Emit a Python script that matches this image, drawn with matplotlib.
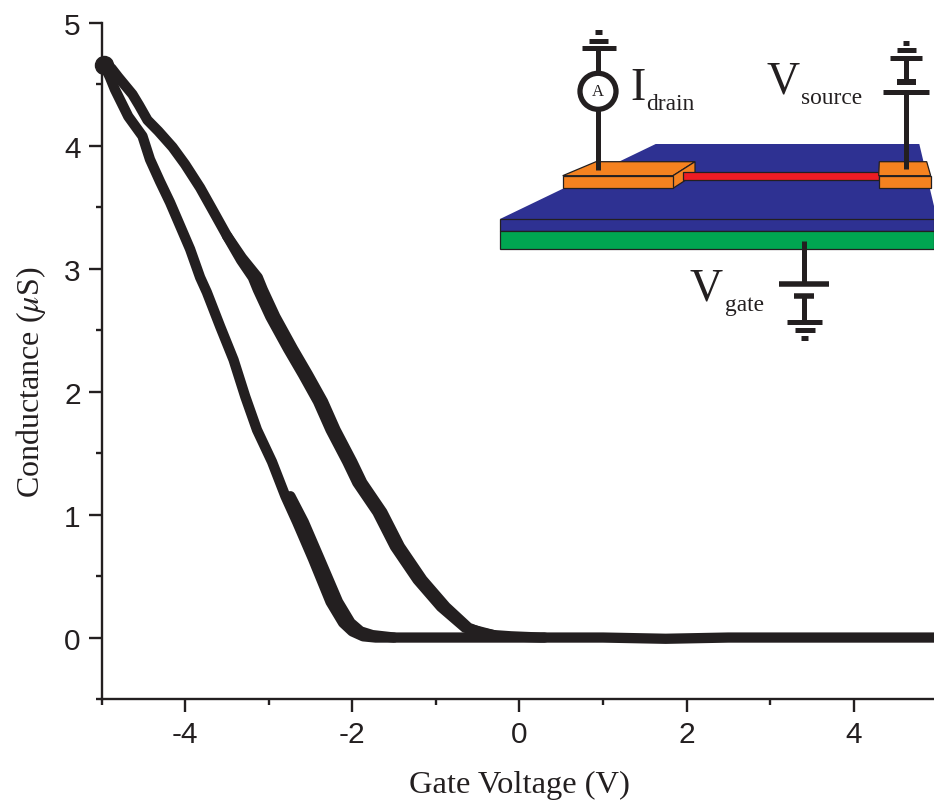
#!/usr/bin/env python3
"""Gate sweep hysteresis of a nanotube transistor, with the device sketch as inset."""

import matplotlib

matplotlib.use("Agg")

import matplotlib.pyplot as plt
from matplotlib import patches
from matplotlib.ticker import FixedLocator

INK = "#231f20"
SERIF = "Liberation Serif"
SANS = "Liberation Sans"

# right branch of the loop, first sweep
upper_v = [-4.97, -4.88, -4.80, -4.63, -4.55, -4.45, -4.32, -4.15, -4.00, -3.82, -3.68, -3.50, -3.32,
           -3.13, -3.07, -2.92, -2.71, -2.53, -2.35, -2.20, -2.00, -1.88, -1.64, -1.43,
           -1.16, -0.88, -0.61, -0.46, -0.31, -0.10, 0.25, 1.0, 1.75, 2.5, 3.5, 5.0]
upper_g = [4.66, 4.63, 4.56, 4.42, 4.33, 4.21, 4.12, 3.99, 3.85, 3.66, 3.49, 3.27, 3.09,
           2.93, 2.83, 2.61, 2.35, 2.14, 1.92, 1.69, 1.43, 1.26, 1.02, 0.74,
           0.47, 0.25, 0.08, 0.04, 0.02, 0.01, 0.0, 0.0, -0.01, 0.0, 0.0, 0.0]

# right branch, second sweep running just left of the first
upper2_v = [-3.50, -3.33, -3.19, -3.13, -2.98, -2.77, -2.59, -2.41, -2.26, -2.06, -1.94,
            -1.70, -1.49, -1.22, -0.94, -0.65, -0.31]
upper2_g = [3.27, 3.07, 2.93, 2.83, 2.61, 2.35, 2.14, 1.92, 1.69, 1.43, 1.26,
            1.02, 0.74, 0.47, 0.25, 0.08, 0.02]

# left branch of the loop
lower_v = [-4.97, -4.90, -4.84, -4.68, -4.51, -4.42, -4.30, -4.18, -4.06, -3.94, -3.82, -3.74,
           -3.58, -3.42, -3.28, -3.14, -2.96, -2.80, -2.66, -2.47, -2.26, -2.11, -2.00, -1.87,
           -1.72, -1.58, -1.00, -0.40, 0.30]
lower_g = [4.66, 4.56, 4.46, 4.24, 4.08, 3.89, 3.71, 3.54, 3.35, 3.16, 2.93, 2.81,
           2.53, 2.26, 1.96, 1.69, 1.43, 1.15, 0.94, 0.64, 0.29, 0.12, 0.05, 0.01,
           0.0, 0.0, 0.0, 0.0, 0.0]

# left branch, second sweep near the bend
lower2_v = [-2.74, -2.58, -2.39, -2.17, -2.02, -1.90, -1.76, -1.50]
lower2_g = [1.15, 0.94, 0.64, 0.29, 0.12, 0.05, 0.02, 0.0]

x_major = [-4, -2, 0, 2, 4]
x_minor = [-5, -3, -1, 1, 3, 5]
y_major = [0, 1, 2, 3, 4, 5]
y_minor = [-0.5, 0.5, 1.5, 2.5, 3.5, 4.5]


def plate(ax, x0, x1, y, width=5):
    ax.plot([x0, x1], [y, y], color=INK, lw=width * 0.72, solid_capstyle="butt")


def wire(ax, x, y0, y1):
    ax.plot([x, x], [y0, y1], color=INK, lw=3.6, solid_capstyle="butt")


def draw_device(ax):
    # everything here is a sketch, placed in figure pixels
    edge = dict(edgecolor=INK, linewidth=0.9)
    blue = "#2e3192"
    orange = "#f58220"

    ax.add_patch(patches.Polygon(
        [(500, 220), (655.7, 145), (919.3, 145), (934, 207), (934, 220)],
        facecolor=blue, edgecolor="none"))
    ax.add_patch(patches.Rectangle((500, 220), 434, 12, facecolor=blue, **edge))
    ax.add_patch(patches.Rectangle((500, 232), 434, 18, facecolor="#00a651", **edge))

    # drain pad
    ax.add_patch(patches.Polygon(
        [(562.7, 176.7), (596, 162.7), (695, 162.7), (673, 176.7)], facecolor=orange, **edge))
    ax.add_patch(patches.Polygon(
        [(673, 176.7), (695, 162.7), (695, 175), (673, 189.3)], facecolor=orange, **edge))
    ax.add_patch(patches.Rectangle((562.7, 176.7), 110.3, 12.6, facecolor=orange, **edge))

    # channel
    ax.add_patch(patches.Rectangle((682.7, 172.7), 196, 8.6, facecolor="#ed1c24", **edge))

    # source pad
    ax.add_patch(patches.Polygon(
        [(879.3, 162.7), (926.7, 162.7), (930.7, 176.7), (878.7, 176.7)],
        facecolor=orange, **edge))
    ax.add_patch(patches.Rectangle((878.7, 176.7), 52, 12.6, facecolor=orange, **edge))

    # drain lead with ammeter
    wire(ax, 598.3, 171, 111)
    wire(ax, 598.3, 74, 49)
    plate(ax, 581.7, 615.7, 49.3)
    plate(ax, 589, 608, 41.7)
    plate(ax, 595.3, 602, 33.3)
    ax.add_patch(patches.Circle((598, 92.3), 18, facecolor="white", edgecolor=INK, linewidth=3.8))
    ax.text(598, 92.3, "A", family=SERIF, fontsize=12, color=INK, ha="center", va="center")

    # source lead
    wire(ax, 906.3, 170, 93)
    plate(ax, 883.3, 929, 93.3)
    plate(ax, 897, 916, 82.7, 6)
    wire(ax, 906.3, 82, 58)
    plate(ax, 890.3, 922.3, 58.7)
    plate(ax, 897, 915.7, 51.3)
    plate(ax, 903.3, 909.3, 44)

    # gate lead
    wire(ax, 804.3, 242, 285)
    plate(ax, 779.3, 829, 285, 5.5)
    plate(ax, 794, 814, 296.7, 5.5)
    wire(ax, 804.3, 296, 322)
    plate(ax, 787, 822, 322.7)
    plate(ax, 794.7, 814.7, 331)
    plate(ax, 801.3, 808, 339)

    big = dict(family=SERIF, fontsize=33, color=INK, va="baseline")
    small = dict(family=SERIF, fontsize=16.8, color=INK, va="baseline")
    ax.text(630, 100, "I", **big)
    ax.text(646, 110, "drain", **small)
    ax.text(766.5, 94, "V", **big)
    ax.text(800.5, 104, "source", **small)
    ax.text(690, 300.7, "V", **big)
    ax.text(725, 310.7, "gate", **small)


def main():
    plt.rcParams["axes.unicode_minus"] = False
    plt.rcParams["mathtext.fontset"] = "stix"

    fig = plt.figure(figsize=(9.34, 8.04), dpi=100)
    ax = fig.add_axes([101.5 / 934, 104 / 804, 832.5 / 934, 676 / 804])

    for xs, ys in [(upper_v, upper_g), (upper2_v, upper2_g),
                   (lower_v, lower_g), (lower2_v, lower2_g)]:
        ax.plot(xs, ys, color=INK, lw=7.4, solid_joinstyle="round",
                solid_capstyle="round", clip_on=False, zorder=3)

    # the blob where both sweeps start
    ax.plot(upper_v[:1], upper_g[:1], "o", color=INK, ms=13, clip_on=False, zorder=3)

    ax.set_xlim(-5, 4.96)
    ax.set_ylim(-0.5, 5)
    ax.spines["top"].set_visible(False)
    ax.spines["right"].set_visible(False)
    for side in ["left", "bottom"]:
        ax.spines[side].set_linewidth(1.7)
        ax.spines[side].set_color(INK)

    ax.xaxis.set_major_locator(FixedLocator(x_major))
    ax.xaxis.set_minor_locator(FixedLocator(x_minor))
    ax.yaxis.set_major_locator(FixedLocator(y_major))
    ax.yaxis.set_minor_locator(FixedLocator(y_minor))
    ax.tick_params(which="major", length=9.4, width=1.7, color=INK, labelsize=21.5,
                   labelcolor=INK, pad=5.5)
    ax.tick_params(which="minor", length=4.5, width=1.7, color=INK)
    for label in ax.get_xticklabels() + ax.get_yticklabels():
        label.set_family(SANS)

    ax.set_xlabel("Gate Voltage (V)", family=SERIF, fontsize=23.4, color=INK)
    ax.xaxis.set_label_coords(0.502, -0.105)
    ax.set_ylabel(r"Conductance ($\mu$S)", family=SERIF, fontsize=23, color=INK)
    ax.yaxis.set_label_coords(-0.064, 0.47)

    sketch = fig.add_axes([0, 0, 1, 1], facecolor="none")
    sketch.set_xlim(0, 934)
    sketch.set_ylim(804, 0)
    sketch.axis("off")
    draw_device(sketch)

    fig.savefig("out.png", dpi=100)
    plt.close(fig)


if __name__ == "__main__":
    main()
